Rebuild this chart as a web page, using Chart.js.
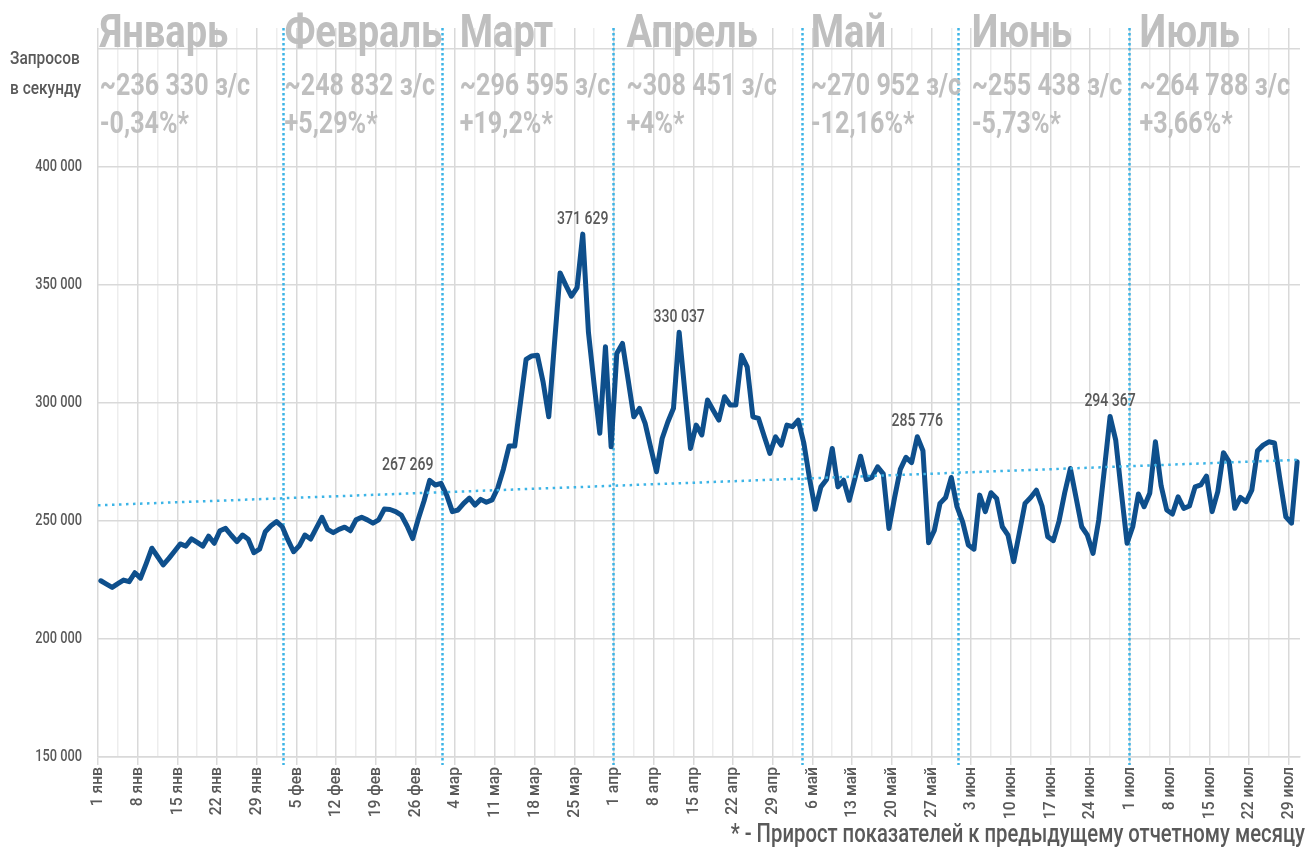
<!DOCTYPE html>
<html lang="ru">
<head>
<meta charset="utf-8">
<title>Запросов в секунду</title>
<script src="https://cdn.jsdelivr.net/npm/chart.js@4/dist/chart.umd.min.js"></script>
<style>
    body { margin: 0; background: #fff; }
    #wrap { width: 1309px; height: 850px; }
</style>
</head>
<body>
<div id="wrap"><canvas id="chart" width="1309" height="850"></canvas></div>
<script>
// daily values, 1 jan .. 31 jul 2020
const requests = [
    224700, 223300, 221900, 223500, 225000, 224300, 228100, 225800, 232000, 238500,
    235000, 231400, 234200, 237200, 240300, 239400, 242500, 241000, 239400, 243600,
    240600, 245900, 246900, 244000, 241300, 244100, 242300, 236600, 238100, 245500,
    248000, 249800, 247600, 242000, 237000, 239500, 244100, 242400, 247000, 251600,
    246500, 245100, 246500, 247400, 245900, 250500, 251600, 250500, 249100, 250500,
    255100, 254900, 254000, 252500, 248000, 242600, 251000, 258500, 267269, 265300,
    266000, 261000, 254000, 254700, 257500, 259700, 256800, 259200, 258000, 259000,
    264000, 272000, 281800, 281800, 300000, 318500, 320000, 320300, 309000, 294200,
    325000, 355200, 350000, 345300, 349000, 371629, 330000, 308000, 287200, 323900,
    281500, 321000, 325300, 310000, 294200, 297800, 291400, 281000, 270900, 285000,
    292000, 297800, 330037, 305000, 280800, 290700, 286500, 301300, 297000, 292800,
    302700, 299200, 299200, 320300, 315400, 294200, 293500, 286000, 278700, 285700,
    282200, 290700, 290000, 292800, 282900, 268000, 255000, 264500, 267600, 280800,
    264500, 267300, 258800, 268000, 277500, 267600, 268500, 273000, 270000, 246900,
    260000, 271900, 277000, 274800, 285776, 279800, 240800, 246000, 257500, 260000,
    268500, 256100, 249700, 239900, 238100, 261000, 254000, 262000, 259600, 247600,
    244000, 232800, 245000, 257500, 260000, 263100, 256400, 243400, 241700, 250000,
    262000, 272300, 260000, 247600, 244000, 236300, 250400, 272000, 294367, 284300,
    262000, 240600, 247600, 261500, 256100, 261800, 283600, 265000, 254700, 253000,
    260300, 255400, 256400, 264500, 265300, 269100, 254000, 262500, 279000, 275100,
    255400, 260000, 258200, 263100, 279800, 282200, 283600, 283100, 267000, 251800,
    249100, 275100
]

const trendValues = [256700, 276000]
const peakDays = [58, 85, 102, 144, 178]

const monthShort = ['янв', 'фев', 'мар', 'апр', 'май', 'июн', 'июл']
const monthNames = ['Январь', 'Февраль', 'Март', 'Апрель', 'Май', 'Июнь', 'Июль']
const monthAvg = [236330, 248832, 296595, 308451, 270952, 255438, 264788]
const monthChange = ['-0,34%', '+5,29%', '+19,2%', '+4%', '-12,16%', '-5,73%', '+3,66%']

// where the month blocks sit on the day axis
const monthDividers = [32.7, 60.7, 90.8, 124.1, 151.7, 181.8]
const headerStart = [0.3, 32.9, 63.8, 93.2, 125.7, 154.1, 183.7]

const FONT = 'Roboto, "Open Sans", sans-serif'
const grayText = '#595959'

function fmt(v) {
    return String(Math.round(v)).replace(/\B(?=(\d{3})+(?!\d))/g, ' ')
}

function dayLabel(i) {
    const d = new Date(2020, 0, 1 + i)
    return `${d.getDate()} ${monthShort[d.getMonth()]}`
}

// no condensed font here, so squeeze the text horizontally
function narrowText(ctx, str, x, y, font, sx, align, baseline, angle) {
    ctx.save()
    ctx.font = font
    ctx.textAlign = align || 'left'
    ctx.textBaseline = baseline || 'alphabetic'
    ctx.translate(x, y)
    if (angle) ctx.rotate(angle)
    ctx.scale(sx, 1)
    ctx.fillText(str, 0, 0)
    ctx.restore()
}

const points = requests.map((v, i) => ({ x: i + 0.5, y: v }))

const extras = {
    id: 'extras',
    beforeDatasetsDraw(chart) {
        const ctx = chart.ctx
        const x = chart.scales.x
        const area = chart.chartArea
        ctx.save()
        ctx.strokeStyle = '#3cb4e6'
        ctx.lineWidth = 2.5
        ctx.setLineDash([2.5, 2.5])
        monthDividers.forEach(d => {
            const px = Math.round(x.getPixelForValue(d)) + 0.5
            ctx.beginPath()
            ctx.moveTo(px, area.top)
            ctx.lineTo(px, area.bottom + 8)
            ctx.stroke()
        })
        ctx.restore()
    },
    afterDraw(chart) {
        const ctx = chart.ctx
        const x = chart.scales.x
        const y = chart.scales.y
        const area = chart.chartArea

        // tick labels
        ctx.fillStyle = grayText
        x.ticks.forEach(t => {
            if (t.value % 7 !== 0) return
            narrowText(ctx, dayLabel(t.value), x.getPixelForValue(t.value), area.bottom + 10,
                `500 17px ${FONT}`, 0.92, 'right', 'middle', -Math.PI / 2)
        })
        y.ticks.forEach(t => {
            if (t.value === 450000) return
            narrowText(ctx, fmt(t.value), 82, y.getPixelForValue(t.value),
                `500 16px ${FONT}`, 0.8, 'right', 'middle')
        })

        // month headers
        ctx.fillStyle = '#bfbfbf'
        monthNames.forEach((name, i) => {
            const px = x.getPixelForValue(headerStart[i])
            narrowText(ctx, name, px, 47, `bold 47px ${FONT}`, 0.81)
            narrowText(ctx, `~${fmt(monthAvg[i])} з/с`, px, 95, `bold 31px ${FONT}`, 0.81)
            narrowText(ctx, `${monthChange[i]}*`, px, 133, `bold 31px ${FONT}`, 0.81)
        })

        // axis title
        ctx.fillStyle = grayText
        narrowText(ctx, 'Запросов', 10, 64, `500 18px ${FONT}`, 0.86)
        narrowText(ctx, 'в секунду', 10, 94, `500 18px ${FONT}`, 0.86)

        // peak labels
        peakDays.forEach(i => {
            const px = x.getPixelForValue(i + 0.5)
            const py = y.getPixelForValue(requests[i])
            const shift = i === 58 ? -22 : 0
            narrowText(ctx, fmt(requests[i]), px + shift, py - 6, `500 18px ${FONT}`, 0.78, 'center', 'bottom')
        })

        // footnote
        narrowText(ctx, '* - Прирост показателей к предыдущему отчетному месяцу', 1305, 842,
            `500 26px ${FONT}`, 0.78, 'right')
    }
}

new Chart(document.getElementById('chart'), {
    type: 'line',
    data: {
        datasets: [{
            label: 'trend',
            data: [{ x: 0, y: trendValues[0] }, { x: 212, y: trendValues[1] }],
            borderColor: '#3cb4e6',
            borderWidth: 2.5,
            borderDash: [2.5, 4.5],
            pointRadius: 0,
            order: 0
        }, {
            label: 'Запросов в секунду',
            data: points,
            borderColor: '#0e4f8c',
            borderWidth: 5,
            borderJoinStyle: 'round',
            borderCapStyle: 'round',
            pointRadius: 0,
            tension: 0,
            order: 1
        }]
    },
    options: {
        responsive: false,
        animation: false,
        layout: { padding: { top: 28, right: 9, left: 0, bottom: 0 } },
        plugins: {
            legend: { display: false },
            tooltip: { enabled: false }
        },
        scales: {
            x: {
                type: 'linear',
                min: 0,
                max: 212,
                afterBuildTicks: s => {
                    s.ticks = []
                    for (let v = 0; v <= 210; v += 3.5) s.ticks.push({ value: v })
                },
                afterFit: s => { s.height = 93 },
                ticks: { display: false },
                grid: {
                    color: c => (c.tick && c.tick.value % 7 === 0) ? '#d9d9d9' : '#ededed',
                    tickColor: c => (c.tick && c.tick.value % 7 === 0) ? '#d9d9d9' : 'rgba(0,0,0,0)',
                    tickLength: 8,
                    lineWidth: 1.5
                },
                border: { color: '#d9d9d9', width: 1.5 }
            },
            y: {
                min: 150000,
                max: 459000,
                afterBuildTicks: s => {
                    s.ticks = []
                    for (let v = 150000; v <= 450000; v += 50000) s.ticks.push({ value: v })
                },
                afterFit: s => { s.width = 98 },
                ticks: { display: false },
                grid: { color: '#d9d9d9', lineWidth: 1.5, drawTicks: false },
                border: { display: false }
            }
        }
    },
    plugins: [extras]
})
</script>
</body>
</html>
